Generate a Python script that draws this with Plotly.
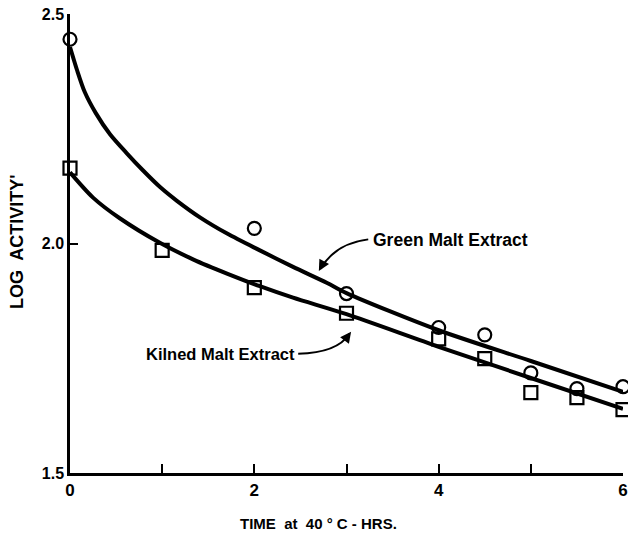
import plotly.graph_objects as go

# Observed data points
green_t = [0, 2, 3, 4, 4.5, 5, 5.5, 6]
green_v = [2.445, 2.033, 1.891, 1.817, 1.801, 1.718, 1.684, 1.688]
kilned_t = [0, 1, 2, 3, 4, 4.5, 5, 5.5, 6]
kilned_v = [2.164, 1.985, 1.904, 1.848, 1.792, 1.749, 1.675, 1.664, 1.638]

# Fitted curves
green_curve_t = [0, 0.076, 0.16, 0.28, 0.434, 0.619, 0.793, 0.977, 1.16, 1.41, 1.71, 2.06, 2.42, 2.79, 3.0, 4, 5, 6]
green_curve_v = [2.428, 2.378, 2.330, 2.284, 2.238, 2.196, 2.159, 2.123, 2.093, 2.057, 2.021, 1.985, 1.949, 1.914, 1.892, 1.811, 1.744, 1.677]
kilned_curve_t = [0, 0.25, 0.54, 0.98, 1.34, 1.71, 2.06, 2.42, 3.0, 4, 5, 6]
kilned_curve_v = [2.155, 2.100, 2.055, 2.001, 1.965, 1.934, 1.907, 1.882, 1.846, 1.775, 1.707, 1.640]

x_ticks = [0, 1, 2, 3, 4, 5, 6]
x_ticktext = ["0", "", "2", "", "4", "", "6"]
y_ticks = [1.5, 2.0, 2.5]
y_ticktext = ["1.5", "2.0", "2.5"]

FONT = "Liberation Sans"

fig = go.Figure()
fig.add_trace(go.Scatter(x=green_curve_t, y=green_curve_v, mode="lines",
                         line=dict(color="black", width=4, shape="spline", smoothing=0.8),
                         showlegend=False, hoverinfo="skip"))
fig.add_trace(go.Scatter(x=kilned_curve_t, y=kilned_curve_v, mode="lines",
                         line=dict(color="black", width=4, shape="spline", smoothing=0.8),
                         showlegend=False, hoverinfo="skip"))
fig.add_trace(go.Scatter(x=green_t, y=green_v, mode="markers", cliponaxis=False,
                         marker=dict(symbol="circle-open", size=13, color="black",
                                     line=dict(width=2.2, color="black")),
                         showlegend=False))
fig.add_trace(go.Scatter(x=kilned_t, y=kilned_v, mode="markers", cliponaxis=False,
                         marker=dict(symbol="square-open", size=13, color="black",
                                     line=dict(width=2.2, color="black")),
                         showlegend=False))

# curved leader lines
fig.add_shape(type="path", xref="x", yref="y",
              path="M 3.236,2.009 Q 2.877,2.0 2.72,1.945",
              line=dict(color="black", width=2))
fig.add_shape(type="path", xref="x", yref="y",
              path="M 2.476,1.760 Q 2.90,1.762 3.03,1.803",
              line=dict(color="black", width=2))

# arrowheads
fig.add_annotation(x=2.70, y=1.940, xref="x", yref="y", ax=5, ay=-9,
                   showarrow=True, arrowhead=2, arrowsize=1.1, arrowwidth=2,
                   arrowcolor="black", text="")
fig.add_annotation(x=3.05, y=1.808, xref="x", yref="y", ax=-6, ay=8,
                   showarrow=True, arrowhead=2, arrowsize=1.1, arrowwidth=2,
                   arrowcolor="black", text="")

fig.add_annotation(x=3.27, y=2.007, xref="x", yref="y", xanchor="left", yanchor="middle",
                   text="<b>Green Malt Extract</b>", showarrow=False,
                   font=dict(family=FONT, size=17.5, color="black"))
fig.add_annotation(x=2.46, y=1.760, xref="x", yref="y", xanchor="right", yanchor="middle",
                   text="<b>Kilned Malt Extract</b>", showarrow=False,
                   font=dict(family=FONT, size=16.5, color="black"))

# axis titles
fig.add_annotation(x=-0.096, y=0.505, xref="paper", yref="paper", textangle=-90,
                   xanchor="center", yanchor="middle",
                   text="<b>LOG  ACTIVITY'</b>", showarrow=False,
                   font=dict(family=FONT, size=18, color="black"))
fig.add_annotation(x=0.45, y=-0.109, xref="paper", yref="paper",
                   xanchor="center", yanchor="middle",
                   text="<b>TIME  at  40 ° C - HRS.</b>", showarrow=False,
                   font=dict(family=FONT, size=15, color="black"))

fig.update_xaxes(range=[0, 6], tickvals=x_ticks, ticktext=["<b>%s</b>" % t if t else "" for t in x_ticktext],
                 ticks="inside", ticklen=9, tickwidth=2, tickcolor="black",
                 ticklabeloverflow="allow", automargin=False,
                 showline=True, linewidth=2.5, linecolor="black", showgrid=False,
                 zeroline=False, tickfont=dict(family=FONT, size=17, color="black"))
fig.update_yaxes(range=[1.5, 2.5], tickvals=y_ticks, ticktext=["<b>%s</b>" % t for t in y_ticktext],
                 ticks="inside", ticklen=8, tickwidth=2, tickcolor="black",
                 ticklabeloverflow="allow", automargin=False,
                 showline=True, linewidth=2.5, linecolor="black", showgrid=False,
                 zeroline=False, tickfont=dict(family=FONT, size=16, color="black"))

fig.update_layout(width=628, height=537, margin=dict(l=70, r=5, t=14, b=64, autoexpand=False),
                  plot_bgcolor="white", paper_bgcolor="white",
                  font=dict(family=FONT, color="black"))

# remove the default page margin so the figure sits at the window's top-left corner
fig.write_html("out.html", config={"displayModeBar": False},
               post_script="document.body.style.margin='0';document.body.style.overflow='hidden';")
